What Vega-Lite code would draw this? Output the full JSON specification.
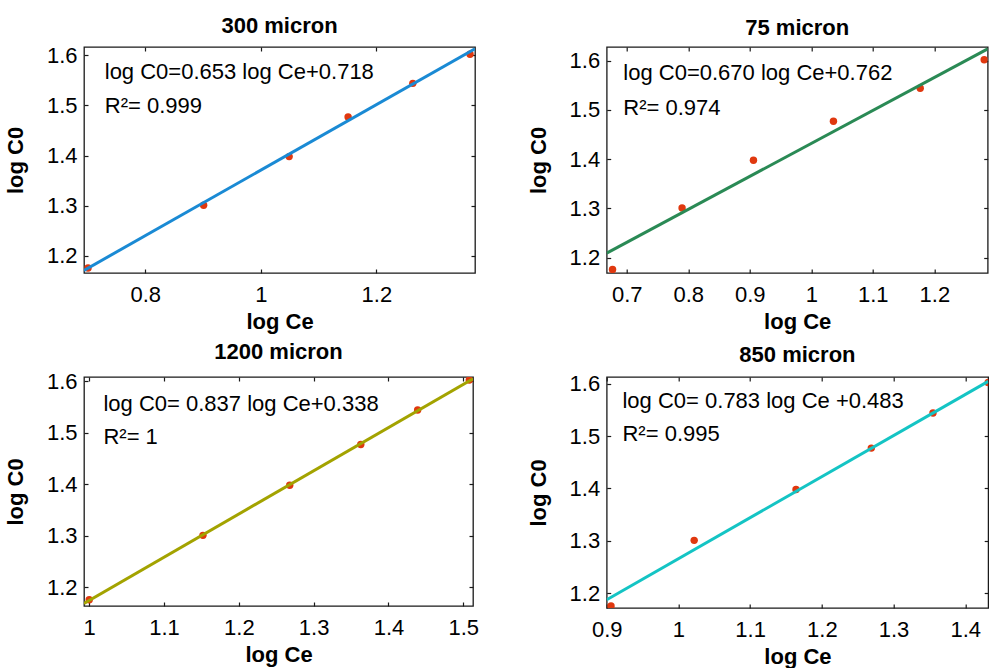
{
  "$schema": "https://vega.github.io/schema/vega-lite/v6.json",
  "padding": {"left": 3, "top": 14, "right": 0, "bottom": 0},
  "background": "white",
  "datasets": {
    "p300": [{"x":0.701,"y":1.176},{"x":0.901,"y":1.301},{"x":1.049,"y":1.398},{"x":1.151,"y":1.477},{"x":1.263,"y":1.544},{"x":1.362,"y":1.602}],
    "f300": [{"x":0.694,"y":1.1712},{"x":1.3706,"y":1.613}],
    "t300": [{"x":0.7299,"y":1.567,"label":"log C0=0.653 log Ce+0.718"},{"x":0.7299,"y":1.499,"label":"R²= 0.999"}],
    "p75": [{"x":0.677,"y":1.176},{"x":0.790,"y":1.301},{"x":0.906,"y":1.398},{"x":1.036,"y":1.477},{"x":1.177,"y":1.544},{"x":1.281,"y":1.602}],
    "f75": [{"x":0.6675,"y":1.2092},{"x":1.2867,"y":1.6241}],
    "t75": [{"x":0.6945,"y":1.576,"label":"log C0=0.670 log Ce+0.762"},{"x":0.6945,"y":1.505,"label":"R²= 0.974"}],
    "p1200": [{"x":1.000,"y":1.176},{"x":1.152,"y":1.301},{"x":1.268,"y":1.398},{"x":1.363,"y":1.477},{"x":1.439,"y":1.544},{"x":1.508,"y":1.602}],
    "f1200": [{"x":0.993,"y":1.1691},{"x":1.513,"y":1.6044}],
    "t1200": [{"x":1.019,"y":1.5565,"label":"log C0= 0.837 log Ce+0.338"},{"x":1.019,"y":1.492,"label":"R²= 1"}],
    "p850": [{"x":0.906,"y":1.176},{"x":1.022,"y":1.301},{"x":1.164,"y":1.398},{"x":1.269,"y":1.477},{"x":1.355,"y":1.544},{"x":1.432,"y":1.602}],
    "f850": [{"x":0.9,"y":1.1877},{"x":1.432,"y":1.6043}],
    "t850": [{"x":0.922,"y":1.567,"label":"log C0= 0.783 log Ce +0.483"},{"x":0.922,"y":1.503,"label":"R²= 0.995"}]
  },
  "columns": 2,
  "spacing": {"row": 104, "column": 131.7},
  "bounds": "flush",
  "concat": [
    {
      "width": 391, "height": 226,
      "title": "300 micron",
      "layer": [
        {"data": {"name": "p300"}, "mark": {"type": "circle", "size": 55, "color": "#e0380f", "opacity": 1, "clip": true},
         "encoding": {
           "x": {"field": "x", "type": "quantitative", "scale": {"domain": [0.694, 1.3706], "nice": false, "zero": false}, "axis": {"orient": "top", "labels": false, "title": null, "values": [0.8, 1, 1.2]}},
           "y": {"field": "y", "type": "quantitative", "scale": {"domain": [1.166, 1.6165], "nice": false, "zero": false}, "axis": {"orient": "right", "labels": false, "title": null, "values": [1.2, 1.3, 1.4, 1.5, 1.6]}}}},
        {"data": {"name": "f300"}, "mark": {"type": "line", "strokeWidth": 3, "color": "#1a8ad4", "clip": true},
         "encoding": {
           "x": {"field": "x", "type": "quantitative", "scale": {"domain": [0.694, 1.3706], "nice": false, "zero": false}, "axis": {"title": "log Ce", "values": [0.8, 1, 1.2], "format": "~g"}},
           "y": {"field": "y", "type": "quantitative", "scale": {"domain": [1.166, 1.6165], "nice": false, "zero": false}, "axis": {"title": "log C0", "values": [1.2, 1.3, 1.4, 1.5, 1.6], "format": "~g"}}}},
        {"data": {"name": "t300"}, "mark": {"type": "text", "align": "left", "baseline": "middle", "fontSize": 22, "color": "black"},
         "encoding": {
           "x": {"field": "x", "type": "quantitative", "scale": {"domain": [0.694, 1.3706], "nice": false, "zero": false}, "axis": null},
           "y": {"field": "y", "type": "quantitative", "scale": {"domain": [1.166, 1.6165], "nice": false, "zero": false}, "axis": null},
           "text": {"field": "label"}}}
      ],
      "resolve": {"axis": {"x": "independent", "y": "independent"}}
    },
    {
      "width": 381, "height": 226,
      "title": "75 micron",
      "layer": [
        {"data": {"name": "p75"}, "mark": {"type": "circle", "size": 55, "color": "#e0380f", "opacity": 1, "clip": true},
         "encoding": {
           "x": {"field": "x", "type": "quantitative", "scale": {"domain": [0.6675, 1.2867], "nice": false, "zero": false}, "axis": {"orient": "top", "labels": false, "title": null, "values": [0.7, 0.8, 0.9, 1, 1.1, 1.2]}},
           "y": {"field": "y", "type": "quantitative", "scale": {"domain": [1.1687, 1.628], "nice": false, "zero": false}, "axis": {"orient": "right", "labels": false, "title": null, "values": [1.2, 1.3, 1.4, 1.5, 1.6]}}}},
        {"data": {"name": "f75"}, "mark": {"type": "line", "strokeWidth": 3, "color": "#2a8a55", "clip": true},
         "encoding": {
           "x": {"field": "x", "type": "quantitative", "scale": {"domain": [0.6675, 1.2867], "nice": false, "zero": false}, "axis": {"title": "log Ce", "values": [0.7, 0.8, 0.9, 1, 1.1, 1.2], "format": "~g"}},
           "y": {"field": "y", "type": "quantitative", "scale": {"domain": [1.1687, 1.628], "nice": false, "zero": false}, "axis": {"title": "log C0", "values": [1.2, 1.3, 1.4, 1.5, 1.6], "format": "~g"}}}},
        {"data": {"name": "t75"}, "mark": {"type": "text", "align": "left", "baseline": "middle", "fontSize": 22, "color": "black"},
         "encoding": {
           "x": {"field": "x", "type": "quantitative", "scale": {"domain": [0.6675, 1.2867], "nice": false, "zero": false}, "axis": null},
           "y": {"field": "y", "type": "quantitative", "scale": {"domain": [1.1687, 1.628], "nice": false, "zero": false}, "axis": null},
           "text": {"field": "label"}}}
      ],
      "resolve": {"axis": {"x": "independent", "y": "independent"}}
    },
    {
      "width": 389, "height": 229,
      "title": "1200 micron",
      "layer": [
        {"data": {"name": "p1200"}, "mark": {"type": "circle", "size": 55, "color": "#e0380f", "opacity": 1, "clip": true},
         "encoding": {
           "x": {"field": "x", "type": "quantitative", "scale": {"domain": [0.993, 1.513], "nice": false, "zero": false}, "axis": {"orient": "top", "labels": false, "title": null, "values": [1, 1.1, 1.2, 1.3, 1.4, 1.5]}},
           "y": {"field": "y", "type": "quantitative", "scale": {"domain": [1.164, 1.608], "nice": false, "zero": false}, "axis": {"orient": "right", "labels": false, "title": null, "values": [1.2, 1.3, 1.4, 1.5, 1.6]}}}},
        {"data": {"name": "f1200"}, "mark": {"type": "line", "strokeWidth": 3, "color": "#a3a300", "clip": true},
         "encoding": {
           "x": {"field": "x", "type": "quantitative", "scale": {"domain": [0.993, 1.513], "nice": false, "zero": false}, "axis": {"title": "log Ce", "values": [1, 1.1, 1.2, 1.3, 1.4, 1.5], "format": "~g"}},
           "y": {"field": "y", "type": "quantitative", "scale": {"domain": [1.164, 1.608], "nice": false, "zero": false}, "axis": {"title": "log C0", "values": [1.2, 1.3, 1.4, 1.5, 1.6], "format": "~g"}}}},
        {"data": {"name": "t1200"}, "mark": {"type": "text", "align": "left", "baseline": "middle", "fontSize": 22, "color": "black"},
         "encoding": {
           "x": {"field": "x", "type": "quantitative", "scale": {"domain": [0.993, 1.513], "nice": false, "zero": false}, "axis": null},
           "y": {"field": "y", "type": "quantitative", "scale": {"domain": [1.164, 1.608], "nice": false, "zero": false}, "axis": null},
           "text": {"field": "label"}}}
      ],
      "resolve": {"axis": {"x": "independent", "y": "independent"}}
    },
    {
      "width": 381.5, "height": 231,
      "title": "850 micron",
      "layer": [
        {"data": {"name": "p850"}, "mark": {"type": "circle", "size": 55, "color": "#e0380f", "opacity": 1, "clip": true},
         "encoding": {
           "x": {"field": "x", "type": "quantitative", "scale": {"domain": [0.9, 1.432], "nice": false, "zero": false}, "axis": {"orient": "top", "labels": false, "title": null, "values": [0.9, 1, 1.1, 1.2, 1.3, 1.4]}},
           "y": {"field": "y", "type": "quantitative", "scale": {"domain": [1.172, 1.6126], "nice": false, "zero": false}, "axis": {"orient": "right", "labels": false, "title": null, "values": [1.2, 1.3, 1.4, 1.5, 1.6]}}}},
        {"data": {"name": "f850"}, "mark": {"type": "line", "strokeWidth": 3, "color": "#14c4c4", "clip": true},
         "encoding": {
           "x": {"field": "x", "type": "quantitative", "scale": {"domain": [0.9, 1.432], "nice": false, "zero": false}, "axis": {"title": "log Ce", "values": [0.9, 1, 1.1, 1.2, 1.3, 1.4], "format": "~g"}},
           "y": {"field": "y", "type": "quantitative", "scale": {"domain": [1.172, 1.6126], "nice": false, "zero": false}, "axis": {"title": "log C0", "values": [1.2, 1.3, 1.4, 1.5, 1.6], "format": "~g"}}}},
        {"data": {"name": "t850"}, "mark": {"type": "text", "align": "left", "baseline": "middle", "fontSize": 22, "color": "black"},
         "encoding": {
           "x": {"field": "x", "type": "quantitative", "scale": {"domain": [0.9, 1.432], "nice": false, "zero": false}, "axis": null},
           "y": {"field": "y", "type": "quantitative", "scale": {"domain": [1.172, 1.6126], "nice": false, "zero": false}, "axis": null},
           "text": {"field": "label"}}}
      ],
      "resolve": {"axis": {"x": "independent", "y": "independent"}}
    }
  ],
  "config": {
    "font": "Liberation Sans",
    "view": {"stroke": "#1a1a1a", "strokeWidth": 1.3},
    "axis": {
      "grid": false, "domain": false,
      "tickColor": "#1a1a1a", "tickSize": -4, "tickWidth": 1.2,
      "labelFont": "Liberation Sans", "labelFontSize": 22, "labelColor": "black",
      "titleFont": "Liberation Sans", "titleFontSize": 22, "titleFontWeight": "bold", "titleColor": "black"
    },
    "axisX": {"labelPadding": 15, "titlePadding": 6, "labelFlush": false},
    "axisY": {"labelPadding": 11, "titlePadding": 19, "labelFlush": false},
    "title": {"fontSize": 22, "fontWeight": "bold", "color": "black", "font": "Liberation Sans", "offset": 6, "anchor": "middle"}
  }
}
